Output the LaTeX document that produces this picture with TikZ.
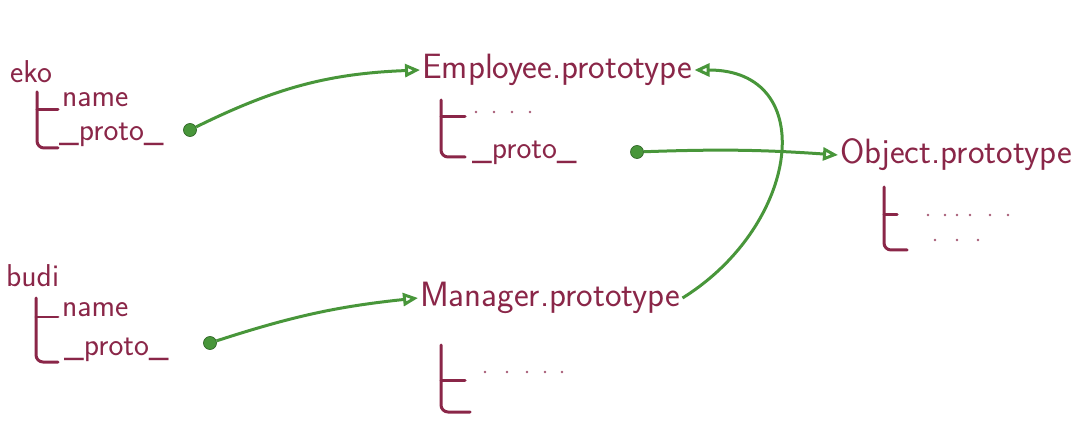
\documentclass[tikz,border=0pt]{standalone}
\usepackage{tikz}
\usetikzlibrary{arrows.meta}
\definecolor{ink}{RGB}{138,38,72}
\definecolor{pen}{RGB}{72,150,58}
\tikzset{
	word/.style={anchor=west, inner sep=1pt, text=ink, font=\sffamily\fontsize{20}{22}\selectfont},
	small/.style={word, font=\sffamily\fontsize{18}{20}\selectfont},
	branch/.style={draw=ink, line width=0.6mm, line cap=round, rounded corners=4pt},
	link/.style={draw=pen, line width=0.6mm, -{Triangle[open, length=3mm, width=2.6mm]}},
	spot/.style={circle, fill=pen, draw=pen!70!black, inner sep=0pt, minimum size=2.6mm},
	speck/.style={fill=ink!75}
}
\begin{document}
\begin{tikzpicture}[x=0.02cm, y=-0.02cm]
			%%%%% START %%%%%
			\useasboundingbox (0, 0) rectangle (1074, 435);
			
			% eko
			\node[small] (eko) at (8, 72) {eko};
			\draw[branch] (37, 92) -- (37, 148) -- (58, 148);
			\draw[branch] (37, 110) -- (58, 110);
			\node[small] (ekoname) at (60, 100) {name};
			\node[small] (ekoproto) at (57, 135) {\_proto\_};
			\node[spot] (ekodot) at (190, 130) {};
			
			% budi
			\node[small] (budi) at (4, 276) {budi};
			\draw[branch] (36, 298) -- (36, 362) -- (58, 362);
			\draw[branch] (36, 317) -- (58, 317);
			\node[small] (budiname) at (60, 310) {name};
			\node[small] (budiproto) at (62, 350) {\_proto\_};
			\node[spot] (budidot) at (210, 343) {};
			
			% Employee.prototype
			\node[word] (emp) at (420, 70) {Employee.prototype};
			\draw[branch] (441, 100) -- (441, 157) -- (465, 157);
			\draw[branch] (441, 117) -- (465, 117);
			\foreach \x in {476, 494, 512, 530} \fill[speck] (\x, 112) circle (1.4);
			\node[small] (empproto) at (470, 153) {\_proto\_};
			\node[spot] (empdot) at (637, 152) {};
			
			% Manager.prototype
			\node[word] (mgr) at (418, 298) {Manager.prototype};
			\draw[branch] (441, 345) -- (441, 412) -- (470, 412);
			\draw[branch] (441, 380) -- (465, 380);
			\foreach \x in {485, 507, 527, 545, 562} \fill[speck] (\x, 372) circle (1.4);
			
			% Object.prototype
			\node[word] (obj) at (838, 155) {Object.prototype};
			\draw[branch] (884, 187) -- (884, 250) -- (907, 250);
			\draw[branch] (884, 215) -- (897, 215);
			\foreach \x in {928, 945, 957, 970, 990, 1008} \fill[speck] (\x, 215) circle (1.4);
			\foreach \x in {935, 957, 978} \fill[speck] (\x, 240) circle (1.4);
			
			% links
			\draw[link] (ekodot) to[bend left=12] (emp.west);
			\draw[link] (budidot) to[bend left=6] (mgr.west);
			\draw[link] (empdot) to[bend left=3] (obj.west);
			\draw[link] (mgr.east) .. controls (800, 225) and (820, 70) .. (emp.east);
			
			%%%%% END %%%%%
		\end{tikzpicture}
\end{document}
